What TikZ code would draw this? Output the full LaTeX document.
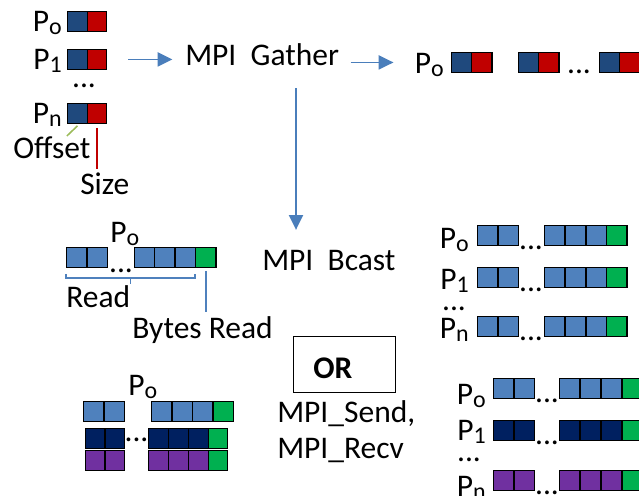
\documentclass[tikz,border=0pt]{standalone}
\usepackage{fontspec}
\setmainfont{Carlito}
\usetikzlibrary{arrows.meta, calc, positioning}

\definecolor{offblue}{HTML}{1F497D}
\definecolor{sizered}{HTML}{C00000}
\definecolor{datablue}{HTML}{4F81BD}
\definecolor{datanavy}{HTML}{002060}
\definecolor{datapurple}{HTML}{7030A0}
\definecolor{readgreen}{HTML}{00B050}
\definecolor{flowblue}{HTML}{4A7EBB}
\definecolor{olive}{HTML}{9BBB59}

% process name with a small lowered index
\newcommand{\proc}[1]{P\raisebox{-0.12em}{\fontsize{17}{17}\selectfont #1}}

\tikzset{
  cell/.style={draw=black, line width=0.9pt, inner sep=0pt,
    minimum width=0.51cm, minimum height=0.49cm, anchor=north west},
  small cell/.style={cell, minimum width=0.49cm},
  lbl/.style={inner sep=0pt, anchor=base west},
  plbl/.style={inner sep=0pt, anchor=base east},
  dots/.style={inner sep=0pt, anchor=base},
  flow/.style={draw=flowblue, line width=1.3pt,
    -{Triangle[length=10.5pt, width=10pt]}},
  marker/.style={line width=1.1pt},
}

\begin{document}
\begin{tikzpicture}[x=0.025cm, y=-0.025cm, font=\fontsize{22.4}{26}\selectfont]

    % Picture frame
    \clip (0,0) rectangle (639,495);

    % Offset/size pairs on every process
    \foreach \r/\y/\t in {o/11/o, 1/49/1, n/103/n} {
      \node[small cell, fill=offblue] (off\r) at (67,\y) {};
      \node[small cell, fill=sizered] (size\r) at (86.5,\y) {};
      \node[plbl] (p\r) at (62,\y+20) {\proc{\t}};
    }
    \node[dots] (tldots) at (84,87) {...};

    % Offset and size markers
    \node[lbl] (offset) at (13,158) {Offset};
    \node[lbl] (size) at (80,194) {Size};
    \draw[marker, olive] ($(offn.south)+(0,2)$) -- ($(offset.north)+(15,0)$);
    \draw[marker, sizered] ($(sizen.south)+(0,4)$) -- ($(sizen.south |- size.north)+(0,-3)$);

    % Gather step
    \node[lbl] (gather) at (185,65) {MPI~~Gather};
    \draw[flow, shorten <=15pt, shorten >=9pt] (size1.east) -- (size1.east -| gather.west);

    % Gathered pairs on the root
    \node[plbl] (groot) at (444,73) {\proc{o}};
    \foreach \x [count=\i] in {451,518,599} {
      \node[cell, fill=offblue] (goff\i) at (\x,52) {};
      \node[cell, fill=sizered] (gsize\i) at (\x+20,52) {};
    }
    \node[dots] (gdots) at (579,73) {...};
    \draw[flow, shorten <=8pt, shorten >=15pt] (gather.east |- goff1.west) -- (goff1.west -| groot.west);

    % Broadcast step
    \node[lbl] (bcast) at (262,270) {MPI~~Bcast};
    \coordinate (split) at (296,88);
    \draw[flow, shorten >=14pt] (split) -- (split |- bcast.north);

    % Data read by the root
    \node[lbl] (rroot) at (110,242) {\proc{o}};
    \foreach \x [count=\i] in {66,86.5,133.5,154,174.5} {
      \node[cell, fill=datablue] (rd\i) at (\x,247) {};
    }
    \node[cell, fill=readgreen] (rgreen) at (195,247) {};
    \node[dots] (rdots) at (121,272) {...};
    \draw[marker, datablue] ($(rd1.south west)+(0,6)$) -- ++(0,4) -| ($(rgreen.south west)+(0,6)$);
    \draw[marker, datablue] ($(rd1.south west)!0.5!(rgreen.south west)+(0,10)$) -- ++(0,6);
    \node[lbl] (read) at (66,307) {Read};
    \node[lbl] (bytes) at (132,338) {Bytes Read};
    \draw[marker, datablue] ($(rgreen.south)+(0,3)$) -- ($(rgreen.south |- bytes.north)+(0,-4)$);

    % Same data on every process after the broadcast
    \foreach \r/\y/\t/\b in {o/225/o/248, 1/267/1/289, n/316/n/338} {
      \node[plbl] (bp\r) at (469,\b) {\proc{\t}};
      \foreach \x in {477,497.5,544,565,585.5} {
        \node[cell, fill=datablue] at (\x,\y) {};
      }
      \node[cell, fill=readgreen] (bg\r) at (606,\y) {};
      \node[dots] at (531,\y+24) {...};
    }
    \node[dots] (bvdots) at (454,310) {...};

    % Alternative: point to point messages
    \node[draw=black, line width=0.8pt, minimum width=2.55cm, minimum height=1.4cm,
      anchor=north west] (orbox) at (293,336) {};
    \node[lbl, font=\fontsize{22.4}{26}\selectfont\bfseries] (or) at (313,378) {OR};
    \node[lbl] (send) at (277,422) {MPI\_Send,};
    \node[lbl] (recv) at (277,458) {MPI\_Recv};

    % Root data before send/recv
    \node[lbl] (sroot) at (128,395) {\proc{o}};
    \foreach \x in {83,103.5,151,171.5,192} {
      \node[cell, fill=datablue] at (\x,401) {};
    }
    \node[cell, fill=readgreen] at (212.5,401) {};
    \foreach \y/\c in {428/datanavy, 450/datapurple} {
      \foreach \x in {84.5,104.5,148,168,188} {
        \node[small cell, fill=\c] at (\x,\y) {};
      }
      \node[small cell, fill=readgreen] at (207.5,\y) {};
    }
    \node[dots] (sdots) at (136.5,441) {...};

    % Data on every process after send/recv
    \foreach \r/\y/\t/\c/\b in {o/378/o/datablue/404, 1/420/1/datanavy/440, n/470/n/datapurple/496} {
      \node[plbl] (rp\r) at (486,\b) {\proc{\t}};
      \foreach \x in {493,513.5,559,580,601} {
        \node[cell, fill=\c] at (\x,\y) {};
      }
      \node[cell, fill=readgreen] (rg\r) at (622,\y) {};
      \node[dots] at (547,\y+24) {...};
    }
    \node[dots] (rvdots) at (469,461) {...};

\end{tikzpicture}
\end{document}
